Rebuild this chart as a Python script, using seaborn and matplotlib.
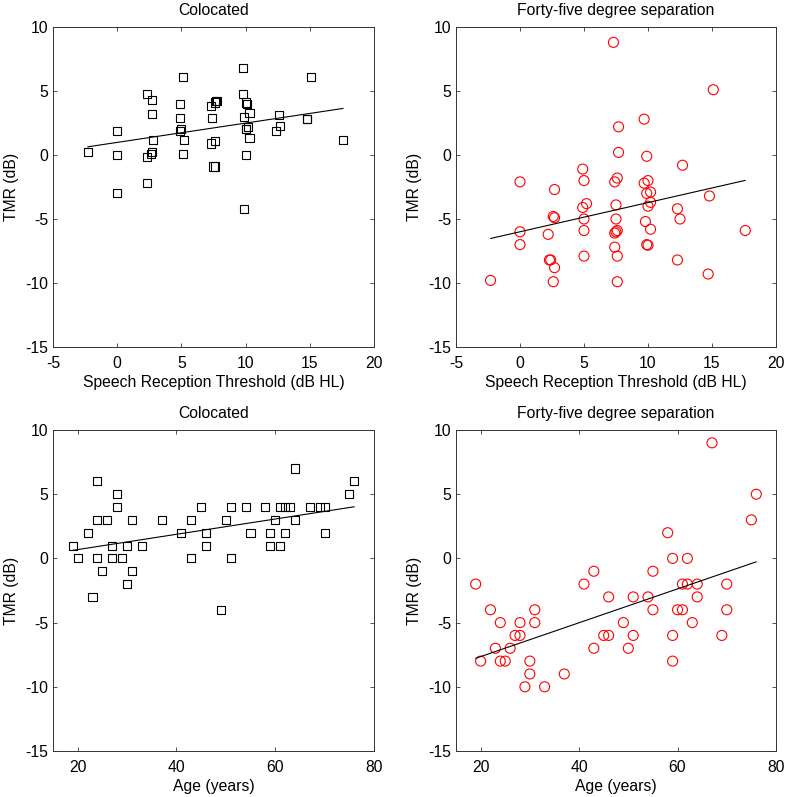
import matplotlib
matplotlib.use('Agg')
import numpy as np
import pandas as pd
from matplotlib import pyplot as plt
import seaborn as sns

# speech reception threshold (dB HL) vs TMR, colocated
srt_coloc = [-2.3, 0.0, 0.0, 0.0, 2.3, 2.7, 2.7, 2.8, 2.3, 2.6, 2.7, 2.3,
             5.1, 4.9, 4.9, 5.0, 4.9, 5.2, 5.1, 9.8, 9.8, 7.3, 7.6, 7.7,
             7.8, 7.4, 7.3, 7.6, 7.5, 7.6, 10.0, 10.1, 9.9, 10.3, 10.0,
             10.0, 10.2, 10.3, 10.0, 9.9, 12.6, 12.7, 12.4, 14.8, 14.8,
             15.1, 17.6]
tmr_srt_coloc = [0.2, 1.9, 0.0, -3.0, 4.8, 4.3, 3.2, 1.2, -0.15, 0.1, 0.2,
                 -2.2, 6.1, 4.0, 2.9, 2.05, 1.9, 1.2, 0.1, 6.8, 4.8, 3.85,
                 4.1, 4.2, 4.2, 2.9, 0.9, 1.1, -0.9, -0.9, 4.1, 4.0, 3.0,
                 3.3, 2.0, 2.0, 2.2, 1.3, 0.0, -4.2, 3.1, 2.3, 1.9, 2.8,
                 2.8, 6.1, 1.2]

# speech reception threshold vs TMR, 45 degree separation
srt_sep = [-2.3, 0.0, 0.0, 0.0, 2.7, 2.2, 2.6, 2.7, 2.3, 2.4, 2.7, 2.6,
           4.9, 5.0, 5.2, 4.9, 5.0, 5.0, 5.0, 7.3, 15.1, 9.7, 7.7, 7.7,
           9.9, 12.7, 7.6, 7.4, 10.0, 9.7, 10.2, 9.9, 10.2, 10.0, 7.5,
           14.8, 12.3, 12.5, 7.5, 9.8, 10.2, 17.6, 7.6, 7.5, 7.4, 7.4,
           9.9, 10.0, 7.6, 12.3, 14.7, 7.6]
tmr_srt_sep = [-9.8, -2.1, -6.0, -7.0, -2.7, -6.2, -4.8, -4.9, -8.2, -8.2,
               -8.8, -9.9, -1.1, -2.0, -3.8, -4.1, -5.0, -5.9, -7.9, 8.8,
               5.1, 2.8, 2.2, 0.2, -0.1, -0.8, -1.8, -2.1, -2.0, -2.2,
               -2.9, -3.0, -3.7, -4.0, -3.9, -3.2, -4.2, -5.0, -5.0, -5.2,
               -5.8, -5.9, -5.9, -6.0, -6.1, -7.2, -7.0, -7.05, -7.9, -8.2,
               -9.3, -9.9]

# age vs TMR, colocated
age_coloc = [19, 20, 22, 23, 24, 24, 24, 25, 26, 27, 27, 28, 28, 29, 30, 30,
             31, 31, 33, 37, 41, 43, 43, 45, 46, 46, 49, 50, 51, 51, 54, 55,
             58, 59, 59, 60, 61, 61, 62, 62, 63, 64, 64, 67, 69, 70, 70, 75, 76]
tmr_age_coloc = [1, 0, 2, -3, 6, 3, 0, -1, 3, 1, 0, 5, 4, 0, 1, -2,
                 3, -1, 1, 3, 2, 3, 0, 4, 2, 1, -4, 3, 4, 0, 4, 2,
                 4, 2, 1, 3, 4, 1, 4, 2, 4, 7, 3, 4, 4, 4, 2, 5, 6]

# age vs TMR, 45 degree separation
age_sep = [19, 20, 22, 23, 24, 24, 25, 26, 27, 28, 28, 29, 30, 30, 31, 31,
           33, 37, 41, 43, 43, 45, 46, 46, 49, 50, 51, 51, 54, 55, 55, 58,
           59, 59, 59, 60, 61, 61, 62, 62, 63, 64, 64, 67, 69, 70, 70, 75, 76]
tmr_age_sep = [-2, -8, -4, -7, -5, -8, -8, -7, -6, -6, -5, -10, -8, -9, -4, -5,
               -10, -9, -2, -1, -7, -6, -6, -3, -5, -7, -3, -6, -3, -1, -4, 2,
               0, -6, -8, -4, -4, -2, 0, -2, -5, -2, -3, 9, -6, -2, -4, 3, 5]

sns.set_theme(style='white')
plt.rcParams['font.family'] = ['Liberation Sans', 'DejaVu Sans']
plt.rcParams['axes.unicode_minus'] = False

fig = plt.figure(figsize=(7.87, 7.97), dpi=100)

W, H = 787, 797
FS = 11.3


def make_axes(left, top, right, bottom):
    return fig.add_axes([left / W, 1 - bottom / H, (right - left) / W, (bottom - top) / H])


def panel(ax, x, y, marker, color, size, title, xlabel, xlim, xticks):
    df = pd.DataFrame({'x': x, 'y': y})
    sns.regplot(data=df, x='x', y='y', ax=ax, ci=None, marker=marker, color='black',
                scatter_kws=dict(s=size, facecolors='none', edgecolors=color,
                                 linewidths=0.8, alpha=1),
                line_kws=dict(color='black', lw=0.8))
    ax.set_xlim(*xlim)
    ax.set_ylim(-15, 10)
    ax.set_xticks(xticks)
    ax.set_yticks(np.arange(-15, 11, 5))
    ax.set_title(title, fontsize=FS, color='black', pad=8.5)
    ax.set_xlabel(xlabel, fontsize=FS, color='black', labelpad=3)
    ax.set_ylabel('TMR (dB)', fontsize=FS, color='black', labelpad=4.5)
    ax.tick_params(direction='in', top=True, right=True, bottom=True, left=True,
                   length=3, width=0.6, labelsize=FS, labelcolor='black',
                   color='#333333')
    ax.tick_params(axis='x', pad=6.5)
    ax.tick_params(axis='y', pad=3.5)
    for s in ax.spines.values():
        s.set_color('#333333')
        s.set_linewidth(0.7)


srt_ticks = np.arange(-5, 21, 5)
age_ticks = [20, 40, 60, 80]

ax1 = make_axes(53, 27, 374, 347)
panel(ax1, srt_coloc, tmr_srt_coloc, 's', 'black', 34, 'Colocated',
      'Speech Reception Threshold (dB HL)', (-5, 20), srt_ticks)
ax2 = make_axes(456, 27, 776, 347)
panel(ax2, srt_sep, tmr_srt_sep, 'o', 'red', 52, 'Forty-five degree separation',
      'Speech Reception Threshold (dB HL)', (-5, 20), srt_ticks)
ax3 = make_axes(53, 430, 374, 751)
panel(ax3, age_coloc, tmr_age_coloc, 's', 'black', 34, 'Colocated',
      'Age (years)', (15, 80), age_ticks)
ax4 = make_axes(456, 430, 776, 751)
panel(ax4, age_sep, tmr_age_sep, 'o', 'red', 52, 'Forty-five degree separation',
      'Age (years)', (15, 80), age_ticks)

fig.savefig('out.png', dpi=100, facecolor='white')
